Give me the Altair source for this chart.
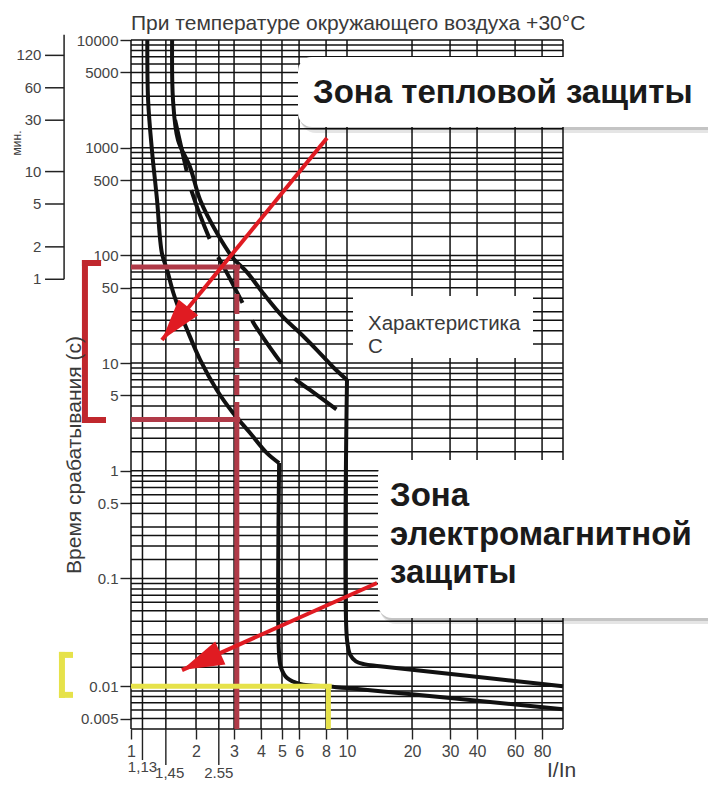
import altair as alt
import pandas as pd

# ---------------- values ----------------
# Characteristic C, lower boundary (I/In, trip time in s): thermal part, then magnetic part
lower_th_i = [1.19, 1.20, 1.25, 1.32, 1.39, 1.47, 1.57, 1.72, 1.82, 2.09, 2.50, 2.97, 3.56, 4.26, 4.85]
lower_th_t = [10000, 2770, 950, 327, 105, 73, 45, 26.8, 20.3, 10.7, 5.6, 3.44, 2.24, 1.46, 1.18]
lower_mg_i = [4.85, 4.85, 4.95, 5.28, 6.06, 8.3, 10.0, 100.0]
lower_mg_t = [1.18, 0.0195, 0.0148, 0.0119, 0.0105, 0.0099, 0.0096, 0.0061]
# Characteristic C, upper boundary
upper_th_i = [1.55, 1.565, 1.65, 1.876, 2.09, 2.50, 2.97, 3.44, 4.08, 5.05, 6.06, 7.26, 8.61, 10.0]
upper_th_t = [10000, 2770, 1180, 662, 327, 161, 94, 70, 44.8, 26.8, 19.0, 13.2, 9.2, 6.97]
upper_mg_i = [10.0, 10.0, 10.35, 11.0, 12.0, 14.2, 100.0]
upper_mg_t = [6.97, 0.027, 0.0195, 0.0170, 0.0160, 0.0153, 0.0100]
# dashed middle curve
mid_i = [1.60, 1.82, 1.92, 2.40, 2.78, 3.48, 3.87, 5.62, 6.74, 10.0]
mid_t = [1808, 582, 380, 120, 68.7, 29.2, 20.3, 7.43, 5.63, 3.16]

# grid and ticks
grid_i = [1, 1.13, 1.45, 2, 2.55, 3, 4, 5, 6, 8, 10, 20, 30, 40, 60, 80, 100]
grid_mant = [1, 1.5, 2, 2.5, 3, 4, 5, 6, 7, 8, 9]
grid_dec = [0.001, 0.01, 0.1, 1, 10, 100, 1000]
x_ticks = [1, 2, 3, 4, 5, 6, 8, 10, 20, 30, 40, 60, 80]
y_ticks = [10000, 5000, 1000, 500, 100, 50, 10, 5, 1, 0.5, 0.1, 0.01, 0.005]
x_extra = [1.13, 1.45, 2.55]
x_extra_lab = ["1,13", "1,45", "2.55"]
x_extra_lab_i = [1.13, 1.51, 2.55]
x_extra_end = [0.00206, 0.00185, 0.00185]
x_extra_labt = [0.00160, 0.00140, 0.00140]
minutes = [1, 2, 5, 10, 30, 60, 120]

# red / yellow markers
red_t = [78, 3.0]
red_i = 3.09
red_from, red_to = 1.0, 3.2
yel_t = 0.01
yel_i = 8.2
yel_to = 8.5
t_bottom = 0.004
red_bracket_t = [85, 2.96]
yel_bracket_t = [0.0195, 0.0083]

# arrows: start (I/In, t) -> tip (I/In, t), head angle
arr_i1 = [8.08, 13.77]
arr_t1 = [1231, 0.0908]
arr_i2 = [1.391, 1.722]
arr_t2 = [16.4, 0.0141]
arr_ang = [219, 246]

FONT = "Liberation Sans"
GRID = "#111111"
MAROON = "#b03a48"
ARROW = "#e01b22"
YELLOW = "#e6e24a"
BRED = "#c0272d"
TXT = "#3a3a3a"

xs = alt.Scale(type="log", domain=[1, 100], nice=False)
ys = alt.Scale(type="log", domain=[t_bottom, 10000], nice=False)


def X(f, axis=None):
    if axis is None:
        return alt.X(f, type="quantitative", scale=xs, title=None)
    return alt.X(f, type="quantitative", scale=xs, axis=axis, title=None)


def Y(f, axis=None):
    if axis is None:
        return alt.Y(f, type="quantitative", scale=ys, title=None)
    return alt.Y(f, type="quantitative", scale=ys, axis=axis, title=None)


one = pd.DataFrame({"a": [0]})

grid_t = sorted({round(m * d, 6) for m in grid_mant for d in grid_dec if t_bottom <= m * d <= 10000} | {10000})

gx = alt.Chart(pd.DataFrame({"i": grid_i})).mark_rule(color=GRID, strokeWidth=1.5).encode(
    x=X("i", alt.Axis(values=x_ticks, format="~g", grid=False, domain=False, tickSize=10,
                      tickWidth=1.4, tickColor="#222", labelFontSize=16, labelColor="#444",
                      labelFont=FONT, labelPadding=4, labelFlush=False, labelOverlap=False))
)
gy = alt.Chart(pd.DataFrame({"t": grid_t})).mark_rule(color=GRID, strokeWidth=1.5).encode(
    y=Y("t", alt.Axis(values=y_ticks, format="~g", grid=False, domain=False, tickSize=11,
                      tickWidth=1.4, tickColor="#222", labelFontSize=15, labelColor="#444",
                      labelFont=FONT, labelPadding=2, labelOverlap=False))
)

# long extra ticks below the axis
ext = pd.DataFrame({"i": x_extra, "t": [t_bottom] * 3, "t2": x_extra_end,
                    "lab": x_extra_lab, "li": x_extra_lab_i, "tl": x_extra_labt})
ext_rule = alt.Chart(ext).mark_rule(color="#222", strokeWidth=1.4).encode(
    x=X("i"), y=Y("t"), y2="t2")
ext_text = alt.Chart(ext).mark_text(font=FONT, fontSize=15, color="#444", baseline="alphabetic").encode(
    x=X("li"), y=Y("tl"), text="lab")

# white patch behind label
patch = alt.Chart(one).mark_rect(color="white").encode(
    x=alt.value(222), x2=alt.value(402), y=alt.value(256), y2=alt.value(318))


# curves
def curve_df(parts):
    rows = []
    for name, ii, tt in parts:
        for k, (a, b) in enumerate(zip(ii, tt)):
            rows.append({"curve": name, "i": a, "t": b, "k": k})
    return pd.DataFrame(rows)


th = curve_df([("lower", lower_th_i, lower_th_t), ("upper", upper_th_i, upper_th_t)])
mg = curve_df([("lower", lower_mg_i, lower_mg_t), ("upper", upper_mg_i, upper_mg_t)])
solid_th = alt.Chart(th).mark_line(color="#111", strokeWidth=4, interpolate="catmull-rom",
                                   strokeJoin="miter").encode(
    x=X("i"), y=Y("t"), detail="curve:N", order="k:Q")
solid_mg = alt.Chart(mg).mark_line(color="#111", strokeWidth=4, interpolate="catmull-rom",
                                   strokeJoin="miter").encode(
    x=X("i"), y=Y("t"), detail="curve:N", order="k:Q")
mdf = pd.DataFrame({"i": mid_i, "t": mid_t, "k": range(len(mid_i))})
dashed = alt.Chart(mdf).mark_line(color="#111", strokeWidth=4, interpolate="catmull-rom",
                                  strokeDash=[52, 20]).encode(
    x=X("i"), y=Y("t"), order="k:Q")

# red marker lines
rh = alt.Chart(pd.DataFrame({"t": red_t, "i": [red_from] * 2, "i2": [red_to] * 2})).mark_rule(
    color=MAROON, strokeWidth=5).encode(x=X("i"), x2="i2", y=Y("t"))
rv_d = alt.Chart(pd.DataFrame({"i": [red_i], "t": [red_t[0]], "t2": [red_t[1]]})).mark_rule(
    color=MAROON, strokeWidth=5, strokeDash=[20, 7]).encode(x=X("i"), y=Y("t"), y2="t2")
rv_s = alt.Chart(pd.DataFrame({"i": [red_i], "t": [red_t[1]], "t2": [t_bottom]})).mark_rule(
    color=MAROON, strokeWidth=5).encode(x=X("i"), y=Y("t"), y2="t2")

# yellow marker lines
yh = alt.Chart(pd.DataFrame({"t": [yel_t], "i": [1.0], "i2": [yel_to]})).mark_rule(
    color=YELLOW, strokeWidth=5).encode(x=X("i"), x2="i2", y=Y("t"))
yv = alt.Chart(pd.DataFrame({"i": [yel_i], "t": [yel_t], "t2": [t_bottom]})).mark_rule(
    color=YELLOW, strokeWidth=5).encode(x=X("i"), y=Y("t"), y2="t2")


# brackets in the left margin (positions on the extended I/In scale)
def bracket(tt, i_v, i_top, i_bot, color):
    d = pd.DataFrame({"i": [i_v, i_v, i_v], "i2": [i_v, i_top, i_bot],
                      "t": [tt[0], tt[0], tt[1]], "t2": [tt[1], tt[0], tt[1]]})
    return alt.Chart(d).mark_rule(color=color, strokeWidth=6, strokeCap="square").encode(
        x=X("i"), x2="i2", y=Y("t"), y2="t2")


rb = bracket(red_bracket_t, 0.612, 0.704, 0.742, BRED)
yb = bracket(yel_bracket_t, 0.479, 0.522, 0.522, YELLOW)

# minutes axis
mdf2 = pd.DataFrame({"s": [m * 60 for m in minutes], "lab": [str(m) for m in minutes],
                     "i": [0.40] * len(minutes), "i2": [0.49] * len(minutes),
                     "li": [0.385] * len(minutes)})
m_line = alt.Chart(pd.DataFrame({"i": [0.49], "t": [60], "t2": [11200]})).mark_rule(
    color="#222", strokeWidth=1.5).encode(x=X("i"), y=Y("t"), y2="t2")
m_tick = alt.Chart(mdf2).mark_rule(color="#222", strokeWidth=1.5).encode(
    x=X("i"), x2="i2", y=Y("s"))
m_lab = alt.Chart(mdf2).mark_text(
    font=FONT, fontSize=15, color="#444", align="right", baseline="middle").encode(
    x=X("li"), y=Y("s"), text="lab")

# arrows
adf = pd.DataFrame({"i": arr_i1, "t": arr_t1, "i2": arr_i2, "t2": arr_t2, "ang": arr_ang})
a_line = alt.Chart(adf).mark_rule(color=ARROW, strokeWidth=4).encode(
    x=X("i"), y=Y("t"), x2="i2", y2="t2")
a_head = alt.Chart(adf).mark_point(shape="M0,0 L1.2,4 L-1.2,4 Z", filled=True, size=440,
                                   color=ARROW, opacity=1, strokeWidth=0).encode(
    x=X("i2"), y=Y("t2"), angle=alt.Angle("ang:Q", scale=None))


# callouts
def box(x1, x2, y1, y2):
    sh1 = alt.Chart(one).mark_rect(color="black", opacity=0.10, cornerRadius=16).encode(
        x=alt.value(x1 + 2), x2=alt.value(x2 + 5), y=alt.value(y1 + 3), y2=alt.value(y2 + 6))
    sh2 = alt.Chart(one).mark_rect(color="black", opacity=0.14, cornerRadius=15).encode(
        x=alt.value(x1 + 1), x2=alt.value(x2 + 3), y=alt.value(y1 + 1), y2=alt.value(y2 + 3))
    bx = alt.Chart(one).mark_rect(color="white", cornerRadius=14).encode(
        x=alt.value(x1), x2=alt.value(x2), y=alt.value(y1), y2=alt.value(y2))
    return [sh1, sh2, bx]


def txt(s, x, y, size, weight="normal", color=TXT, align="left", angle=0, baseline="alphabetic"):
    return alt.Chart(one).mark_text(text=s, font=FONT, fontSize=size, fontWeight=weight, color=color,
                                    align=align, angle=angle, baseline=baseline).encode(
        x=alt.value(x), y=alt.value(y))


texts = [
    txt("При температуре окружающего воздуха +30°C", 0, -10, 21),
    txt("Время срабатывания (с)", -56, 415, 21, align="center", angle=270, baseline="middle"),
    txt("мин.", -114, 103, 12, align="center", angle=270, baseline="middle"),
    txt("I/In", 416, 737, 21, align="left"),
    txt("Характеристика", 237, 290, 20.5),
    txt("С", 237, 313, 20.5),
    txt("Зона тепловой защиты", 182, 63, 33, weight="bold", color="#1a1a1a"),
    txt("Зона", 259, 466, 33, weight="bold", color="#1a1a1a"),
    txt("электромагнитной", 259, 505, 33, weight="bold", color="#1a1a1a"),
    txt("защиты", 259, 543, 33, weight="bold", color="#1a1a1a"),
]

layers = ([gx, gy, ext_rule, ext_text, patch, solid_th, solid_mg, dashed, rv_d, rv_s, rh, yv, yh,
           rb, yb, m_line, m_tick, m_lab, a_line, a_head]
          + box(167, 600, 17, 87) + box(247, 600, 420, 578) + texts)

chart = alt.layer(*layers).properties(
    width=432, height=689,
    autosize=alt.AutoSizeParams(type="none"),
    padding={"left": 123, "top": 32, "right": 145, "bottom": 57},
).configure_view(stroke=None)

chart.save("out.html", embed_options={"renderer": "svg", "actions": False})
